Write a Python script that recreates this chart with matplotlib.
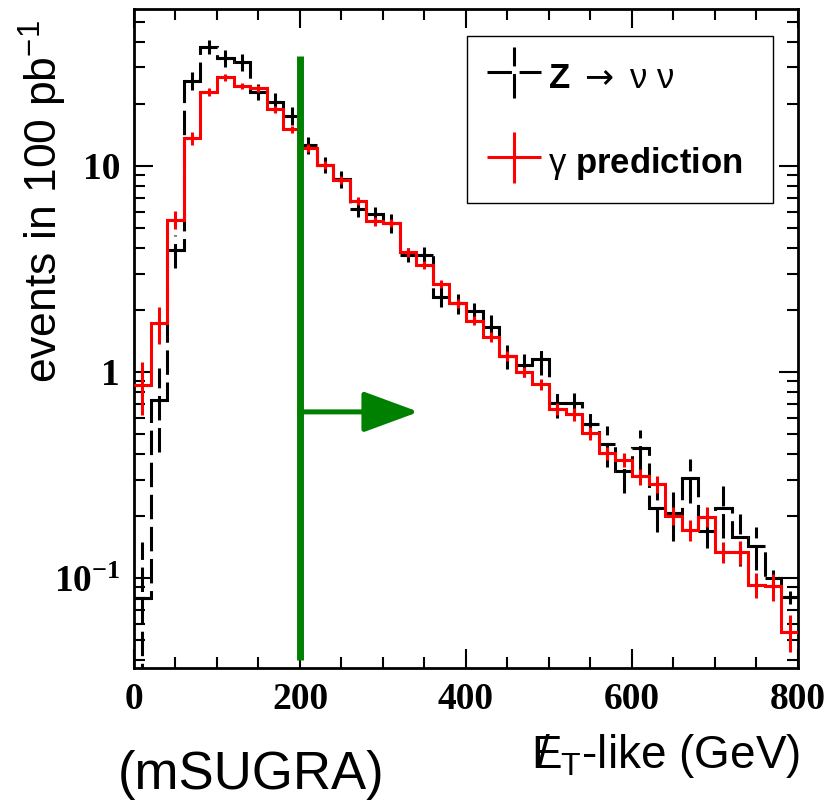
import numpy as np
import matplotlib
matplotlib.use("Agg")
import matplotlib.pyplot as plt
from matplotlib.ticker import FixedLocator, MultipleLocator, LogLocator, NullFormatter
from matplotlib.legend_handler import HandlerErrorbar

##### data (20 GeV bins, 0-800 GeV)

bin_edges = np.arange(0, 801, 20)

z_nunu = [0.080, 0.73, 3.9, 25.9, 37.9, 33.3, 31.9, 22.9, 20.5, 17.5,
          12.6, 10.1, 8.6, 6.2, 5.85, 5.27, 3.70, 3.70, 2.32, 2.15,
          1.98, 1.66, 1.19, 1.08, 1.15, 0.71, 0.71, 0.557, 0.446, 0.33,
          0.429, 0.218, 0.206, 0.305, 0.170, 0.218, 0.159, 0.143, 0.0996, 0.081]
z_nunu_err = [0.07, 0.32, 0.7, 2.7, 3.0, 3.0, 3.0, 2.0, 2.0, 1.8,
              1.2, 0.9, 0.8, 0.55, 0.45, 0.55, 0.3, 0.35, 0.25, 0.25,
              0.18, 0.22, 0.16, 0.14, 0.18, 0.11, 0.08, 0.08, 0.10, 0.07,
              0.095, 0.05, 0.055, 0.075, 0.03, 0.062, 0.045, 0.034, 0.01, 0.006]

gamma_pred = [0.865, 1.72, 5.47, 13.6, 22.8, 26.9, 24.4, 23.8, 18.8, 15.0,
              12.2, 10.1, 8.55, 6.76, 5.37, 5.27, 3.80, 3.31, 2.67, 2.15,
              1.77, 1.48, 1.20, 1.00, 0.874, 0.661, 0.623, 0.503, 0.403, 0.374,
              0.311, 0.285, 0.200, 0.171, 0.198, 0.134, 0.134, 0.093, 0.091, 0.055]
gamma_pred_err = [0.25, 0.35, 0.55, 1.0, 1.1, 1.0, 0.9, 0.9, 0.8, 0.6,
                  0.5, 0.45, 0.4, 0.3, 0.25, 0.25, 0.18, 0.16, 0.13, 0.11,
                  0.09, 0.08, 0.07, 0.06, 0.055, 0.045, 0.045, 0.035, 0.03, 0.03,
                  0.028, 0.026, 0.02, 0.02, 0.022, 0.016, 0.018, 0.013, 0.014, 0.011]

# cut line and arrow
cut_value = 200
cut_ymin, cut_ymax = 0.04, 34.0
arrow_end = 343
arrow_y = 0.64

x_ticks = [0, 200, 400, 600, 800]
y_ticks = [0.1, 1, 10]
y_tick_labels = [r"$\mathbf{10^{-1}}$", "1", "10"]

centers = 0.5 * (bin_edges[:-1] + bin_edges[1:])
half_width = 0.5 * (bin_edges[1] - bin_edges[0])

# mathtext slots: rm/it -> sans, bf -> bold serif (tick labels),
# sf -> bold sans (legend), tt -> DejaVu (for a decent arrow)
plt.rcParams["mathtext.fontset"] = "custom"
plt.rcParams["mathtext.rm"] = "Liberation Sans"
plt.rcParams["mathtext.it"] = "Liberation Sans"
plt.rcParams["mathtext.bf"] = "Liberation Serif:bold"
plt.rcParams["mathtext.sf"] = "Liberation Sans:bold"
plt.rcParams["mathtext.tt"] = "DejaVu Sans"

sans = ["Liberation Sans", "DejaVu Sans"]
serif = ["Liberation Serif", "DejaVu Serif"]
dash = (0, (8, 2.5))

fig = plt.figure(figsize=(8.30, 8.01), dpi=100)
ax = fig.add_axes([0.1614, 0.1660, 0.8000, 0.8227])

# Z -> nu nu, black dashed
ax.stairs(z_nunu, bin_edges, baseline=None, color="black", lw=2.2, ls=dash, zorder=2)
eb_z = ax.errorbar(centers, z_nunu, xerr=half_width, yerr=z_nunu_err, fmt="none",
                   ecolor="black", elinewidth=2.2, zorder=2)
for c in eb_z.lines[2]:
    c.set_linestyle(dash)

# gamma prediction, red
ax.stairs(gamma_pred, bin_edges, baseline=None, color="red", lw=2.2, zorder=3)
eb_g = ax.errorbar(centers, gamma_pred, xerr=half_width, yerr=gamma_pred_err, fmt="none",
                   ecolor="red", elinewidth=2.2, zorder=3)

# cut
ax.vlines(cut_value, cut_ymin, cut_ymax, color="#008000", lw=5, zorder=5)
ax.annotate("", xy=(arrow_end, arrow_y), xytext=(cut_value, arrow_y),
            arrowprops=dict(arrowstyle="-|>,head_length=1.9,head_width=0.7",
                            color="#008000", lw=3.6, mutation_scale=18,
                            shrinkA=0, shrinkB=0), zorder=5)

ax.set_xlim(0, 800)
ax.set_yscale("log")
ax.set_ylim(0.0366, 57.6)

ax.set_xticks(x_ticks, labels=[str(v) for v in x_ticks], fontfamily=serif,
              fontweight="bold", fontsize=27)
ax.xaxis.set_minor_locator(MultipleLocator(50))
ax.yaxis.set_major_locator(FixedLocator(y_ticks))
ax.set_yticks(y_ticks, labels=y_tick_labels, fontfamily=serif,
              fontweight="bold", fontsize=27)
ax.yaxis.set_minor_locator(LogLocator(base=10, subs=np.arange(2, 10)))
ax.yaxis.set_minor_formatter(NullFormatter())

ax.tick_params(which="both", direction="in", top=True, right=True, width=1.5)
ax.tick_params(which="major", length=14, pad=10)
ax.tick_params(which="minor", length=8)
for s in ax.spines.values():
    s.set_linewidth(2.0)

ax.set_ylabel(r"events in 100 pb$^{-1}$", fontsize=32, fontfamily=sans, loc="top")
ax.yaxis.set_label_coords(-0.098, 0.983)
ax.set_xlabel(r"$/\!\!\!E_{T}$-like (GeV)", fontsize=33, fontfamily=sans, loc="right")
ax.xaxis.set_label_coords(1.003, -0.097)

fig.text(0.142, 0.032, "(mSUGRA)", fontsize=38, fontfamily=sans, ha="left", va="center")

leg = ax.legend([eb_z, eb_g],
                [r"$\mathsf{Z}\ \mathtt{\rightarrow}\ \nu\ \nu$",
                 r"$\gamma\ \mathsf{prediction}$"],
                handler_map={eb_z: HandlerErrorbar(xerr_size=0.78, yerr_size=0.74),
                             eb_g: HandlerErrorbar(xerr_size=0.78, yerr_size=0.74)},
                loc="upper left", bbox_to_anchor=(0.501, 0.706, 0.461, 0.253),
                mode="expand", borderaxespad=0, fancybox=False, framealpha=1,
                edgecolor="black", prop={"family": sans, "size": 25},
                handlelength=1.55, handleheight=1.45, handletextpad=0.22,
                labelspacing=1.26, borderpad=0.58)
leg.get_frame().set_linewidth(1.0)

fig.savefig("out.png", dpi=100)
